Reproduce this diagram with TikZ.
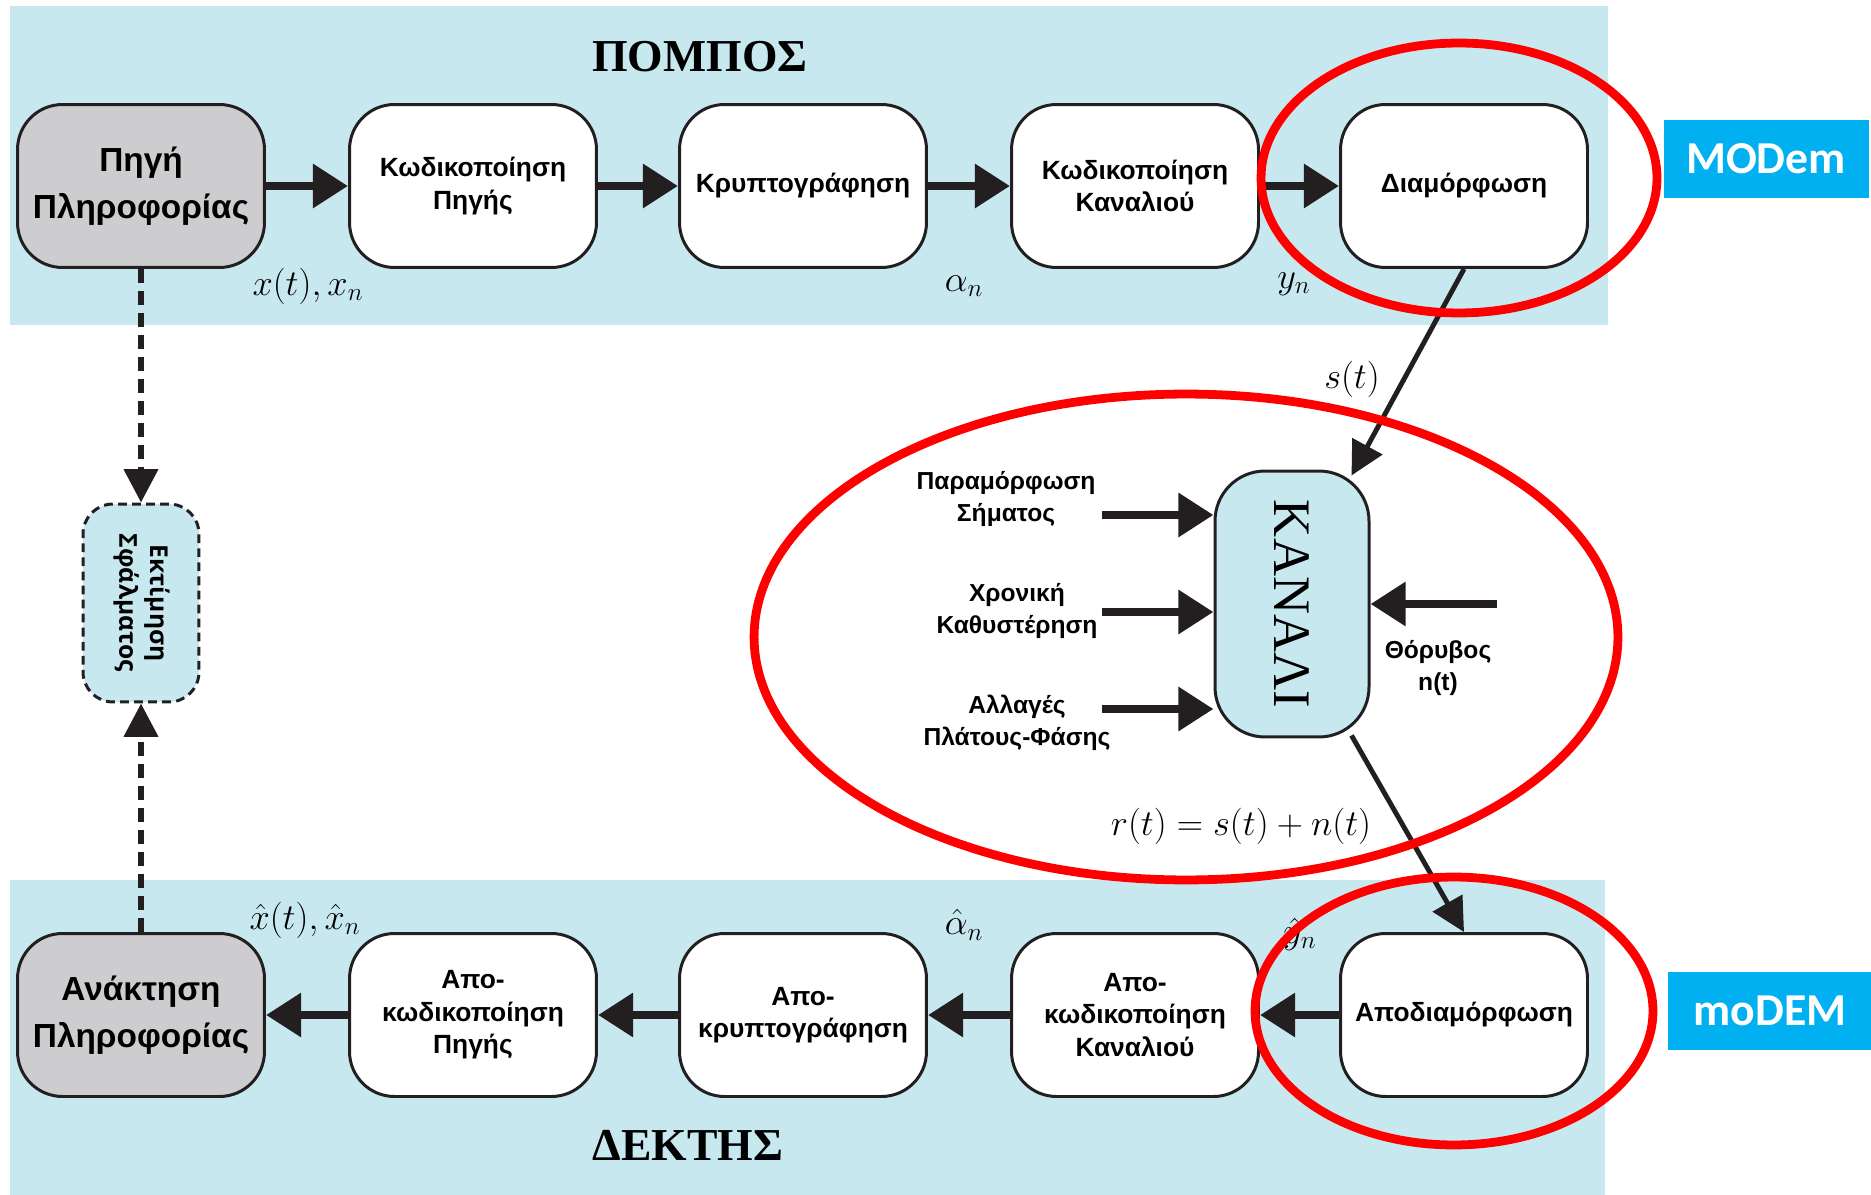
\documentclass[tikz,border=0pt]{standalone}
\usepackage{fontspec}
\usepackage{graphicx}
\setmainfont{Liberation Serif}
\newfontfamily\blockfont{Liberation Sans}
\newfontfamily\tagfont{Carlito}
\newfontfamily\errfont{Open Sans}
\usetikzlibrary{arrows.meta}
\tikzset{>=Triangle}
\definecolor{bandblue}{RGB}{200,232,240}
\definecolor{srcgray}{RGB}{205,205,208}
\definecolor{tagblue}{RGB}{0,176,240}
\definecolor{ringred}{RGB}{255,0,0}
\definecolor{inkblack}{RGB}{35,31,32}

\begin{document}
\begin{tikzpicture}[x=0.02cm,y=-0.02cm,
  block/.style={draw=inkblack,line width=1.7pt,fill=white,rounded corners=0.9cm,
    minimum width=4.94cm,minimum height=3.26cm,align=center,inner sep=0pt,
    font=\blockfont\bfseries\fontsize{15}{18.5}\selectfont},
  srcblock/.style={block,fill=srcgray,font=\blockfont\bfseries\fontsize{19}{27}\selectfont},
  chanblock/.style={draw=inkblack,line width=1.7pt,fill=bandblue,rounded corners=1cm,
    minimum width=3.08cm,minimum height=5.32cm,inner sep=0pt,
    font=\fontsize{30}{30}\selectfont},
  errblock/.style={draw=inkblack,line width=1.7pt,dashed,dash pattern=on 5pt off 3pt,
    fill=bandblue,rounded corners=0.6cm,minimum width=2.32cm,minimum height=3.96cm,
    inner sep=0pt,font=\errfont\bfseries\fontsize{14}{17.5}\selectfont},
  sidelbl/.style={align=center,font=\blockfont\bfseries\fontsize{14}{18}\selectfont},
  mathlbl/.style={font=\fontsize{20}{24}\selectfont,inner sep=0pt},
  title/.style={font=\bfseries\fontsize{26}{30}\selectfont},
  tag/.style={fill=tagblue,text=white,minimum width=4.1cm,minimum height=1.56cm,
    font=\tagfont\bfseries\fontsize{26}{30}\selectfont},
  flow/.style={->,line width=5pt,draw=inkblack,>={Triangle[length=20pt,width=24pt]}},
  link/.style={->,line width=2.8pt,draw=inkblack,>={Triangle[length=19pt,width=19pt]}},
  feedback/.style={->,line width=3.4pt,draw=inkblack,dash pattern=on 8pt off 4.5pt,
    >={Triangle[length=19pt,width=19pt]}},
  ring/.style={draw=ringred,line width=5pt}]

  \useasboundingbox (0,0) rectangle (1871,1195);

  % bands
  \fill[bandblue] (10,6) rectangle (1608,325);
  \fill[bandblue] (10,880) rectangle (1605,1195);
  \node[title] (txtitle) at (700,57) {ΠΟΜΠΟΣ};
  \node[title] (rxtitle) at (688,1145) {ΔΕΚΤΗΣ};

  % transmitter
  \node[srcblock] (src) at (141,186) {Πηγή\\Πληροφορίας};
  \node[block] (srccod) at (473,186) {Κωδικοποίηση\\Πηγής};
  \node[block] (crypt) at (803,186) {Κρυπτογράφηση};
  \node[block] (chcod) at (1135,186) {Κωδικοποίηση\\Καναλιού};
  \node[block] (mod) at (1464,186) {Διαμόρφωση};

  % receiver
  \node[srcblock] (rec) at (141,1015) {Ανάκτηση\\Πληροφορίας};
  \node[block] (srcdec) at (473,1015) {Απο-\\κωδικοποίηση\\Πηγής};
  \node[block] (decrypt) at (803,1015) {Απο-\\κρυπτογράφηση};
  \node[block] (chdec) at (1135,1015) {Απο-\\κωδικοποίηση\\Καναλιού};
  \node[block] (demod) at (1464,1015) {Αποδιαμόρφωση};

  % channel and error estimate
  \node[chanblock] (chan) at (1292,604) {\rotatebox{-90}{ΚΑΝΑΛΙ}};
  \node[errblock] (err) at (141,603)
    {\rotatebox{-90}{\begin{tabular}{@{}c@{}}Εκτίμηση\\Σφάλματος\end{tabular}}};

  % forward chain
  \draw[flow] (src) -- (srccod);
  \draw[flow] (srccod) -- (crypt);
  \draw[flow] (crypt) -- (chcod);
  \draw[flow] (chcod) -- (mod);
  \draw[flow] (demod) -- (chdec);
  \draw[flow] (chdec) -- (decrypt);
  \draw[flow] (decrypt) -- (srcdec);
  \draw[flow] (srcdec) -- (rec);
  \draw[link] (mod.south) -- ([shift={(-19,6)}]chan.north east);
  \draw[link] ([shift={(-19,-3)}]chan.south east) -- (demod.north);
  \draw[feedback] (src.south) -- (err.north);
  \draw[feedback] (rec.north) -- (err.south);

  % channel effects
  \node[sidelbl] (distort) at (1006,499) {Παραμόρφωση\\Σήματος};
  \node[sidelbl] (delay) at (1017,611) {Χρονική\\Καθυστέρηση};
  \node[sidelbl] (ampl) at (1017,723) {Αλλαγές\\Πλάτους-Φάσης};
  \node[sidelbl] (noise) at (1438,668) {Θόρυβος\\n(t)};
  \coordinate (distin) at (1102,515);
  \coordinate (delayin) at (1102,612);
  \coordinate (amplin) at (1102,709);
  \coordinate (noisein) at (1497,604);
  \draw[flow] (distin) -- (distin -| chan.west);
  \draw[flow] (delayin) -- (delayin -| chan.west);
  \draw[flow] (amplin) -- (amplin -| chan.west);
  \draw[flow] (noisein) -- (noisein -| chan.east);

  % signal labels
  \node[mathlbl] (lx) at (308,286) {$x(t),x_n$};
  \node[mathlbl] (la) at (964,286) {$\alpha_n$};
  \node[mathlbl] (ly) at (1294,284) {$y_n$};
  \node[mathlbl] (ls) at (1352,379) {$s(t)$};
  \node[mathlbl] (lr) at (1241,826) {$r(t)=s(t)+n(t)$};
  \node[mathlbl] (lxh) at (305,920) {$\hat{x}(t),\hat{x}_n$};
  \node[mathlbl] (lah) at (964,925) {$\hat{\alpha}_n$};
  \node[mathlbl] (lyh) at (1300,934) {$\hat{y}_n$};

  % highlights
  \draw[ring] (1459,178) ellipse [x radius=3.96cm,y radius=2.7cm];
  \draw[ring] (1186,637) ellipse [x radius=8.64cm,y radius=4.86cm];
  \draw[ring] (1454,1011) ellipse [x radius=3.98cm,y radius=2.68cm];
  \node[tag] (tagtx) at (1766,159) {MODem};
  \node[tag] (tagrx) at (1770,1011) {moDEM};

\end{tikzpicture}
\end{document}
